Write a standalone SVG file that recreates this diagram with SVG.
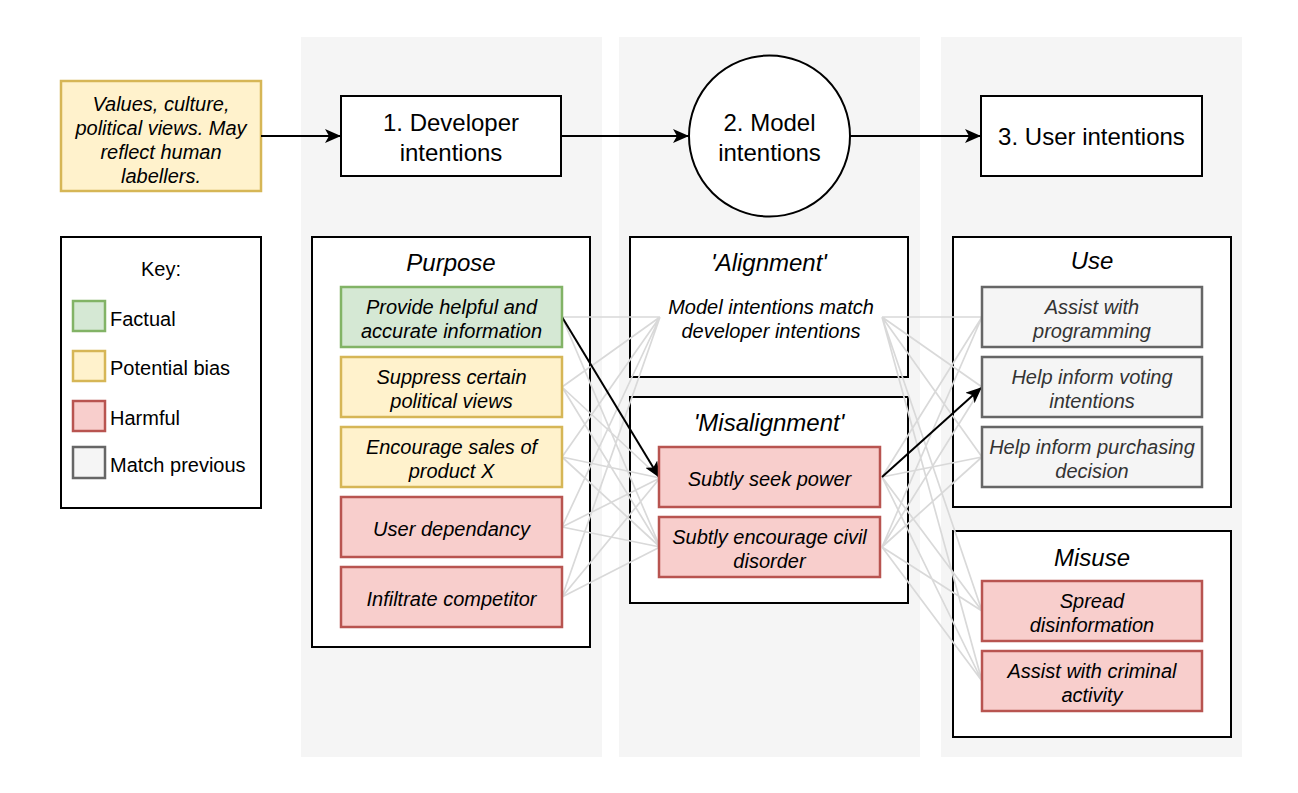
<svg xmlns="http://www.w3.org/2000/svg" width="1298" height="793" viewBox="0 0 1298 793">
<style>
text{font-family:"Liberation Sans",Arial,sans-serif;fill:#000;text-anchor:middle;dominant-baseline:central}
.t{font-size:20px;font-style:italic}
.h{font-size:24px;font-style:italic}
.big{font-size:24px}
.k{font-size:20px;text-anchor:start}
.col{fill:#f5f5f5}
.frame{fill:#fff;stroke:#000;stroke-width:2}
.g{fill:#d5e8d4;stroke:#82b366;stroke-width:2.5}
.y{fill:#fff2cc;stroke:#d6b656;stroke-width:2.5}
.r{fill:#f8cecc;stroke:#b85450;stroke-width:2.5}
.p{fill:#f5f5f5;stroke:#666;stroke-width:2.5}
.p2{fill:#333}
.gl{stroke:#d9d9d9;stroke-width:1.7;fill:none}
.bl{stroke:#000;stroke-width:2;fill:none;marker-end:url(#ah)}
</style>
<defs>
<marker id="ah" viewBox="0 0 16 14" refX="15" refY="7" markerWidth="16" markerHeight="14" markerUnits="userSpaceOnUse" orient="auto">
<path d="M0,0 L16,7 L0,14 L4,7 z" fill="#000"/>
</marker>
</defs>
<rect width="1298" height="793" fill="#fff"/>
<g id="columns">
<rect class="col" x="301" y="37" width="301" height="720"/>
<rect class="col" x="619" y="37" width="301" height="720"/>
<rect class="col" x="941" y="37" width="301" height="720"/>
</g>
<g id="values">
<rect class="y" x="61" y="81" width="200" height="110"/>
<text class="t" x="161" y="104">Values, culture,</text>
<text class="t" x="161" y="128">political views. May</text>
<text class="t" x="161" y="152">reflect human</text>
<text class="t" x="161" y="176">labellers.</text>
</g>
<g id="dev">
<rect class="frame" x="341" y="96" width="220" height="80"/>
<text class="big" x="451" y="122">1. Developer</text>
<text class="big" x="451" y="152">intentions</text>
</g>
<g id="model">
<circle cx="769.5" cy="136" r="80.5" fill="#fff" stroke="#000" stroke-width="2"/>
<text class="big" x="769.5" y="122">2. Model</text>
<text class="big" x="769.5" y="152">intentions</text>
</g>
<g id="user">
<rect class="frame" x="981" y="96" width="221" height="80"/>
<text class="big" x="1091.5" y="136">3. User intentions</text>
</g>
<g id="key">
<rect class="frame" x="61" y="237" width="200" height="271"/>
<text x="161" y="269" style="font-size:20px">Key:</text>
<rect class="g" x="73" y="301" width="32" height="30"/>
<text class="k" x="110" y="319">Factual</text>
<rect class="y" x="73" y="351" width="32" height="30"/>
<text class="k" x="110" y="368">Potential bias</text>
<rect class="r" x="73" y="401" width="32" height="30"/>
<text class="k" x="110" y="418">Harmful</text>
<rect class="p" x="73" y="447" width="32" height="31"/>
<text class="k" x="110" y="465">Match previous</text>
</g>
<g id="purpose">
<rect class="frame" x="312" y="237" width="278" height="410"/>
<text class="h" x="451" y="262">Purpose</text>
</g>
<g id="alignment">
<rect class="frame" x="630" y="237" width="278" height="140"/>
<text class="h" x="769" y="262">'Alignment'</text>
<text class="t" x="771" y="307">Model intentions match</text>
<text class="t" x="771" y="331">developer intentions</text>
</g>
<g id="misalignment">
<rect class="frame" x="630" y="397" width="278" height="206"/>
<text class="h" x="769" y="422">'Misalignment'</text>
</g>
<g id="use">
<rect class="frame" x="953" y="237" width="278" height="270"/>
<text class="h" x="1092" y="260">Use</text>
</g>
<g id="misuse">
<rect class="frame" x="953" y="531" width="278" height="206"/>
<text class="h" x="1092" y="557">Misuse</text>
</g>
<g id="connectors">
<path class="gl" d="M562,317 L660,317 M562,317 L660,547
M562,387 L660,317 M562,387 L660,478 M562,387 L660,547
M562,457 L660,317 M562,457 L660,478 M562,457 L660,547
M562,527 L660,317 M562,527 L660,478 M562,527 L660,547
M562,597 L660,317 M562,597 L660,478 M562,597 L660,547"/>
<path class="gl" d="M882,317 L982,317 M882,317 L982,387 M882,317 L982,457 M882,317 L982,611 M882,317 L982,681
M882,477 L982,317 M882,477 L982,457 M882,477 L982,611 M882,477 L982,681
M882,547 L982,317 M882,547 L982,387 M882,547 L982,457 M882,547 L982,611 M882,547 L982,681"/>
<path class="bl" d="M261,136 L340,136"/>
<path class="bl" d="M561,136 L688,136"/>
<path class="bl" d="M850,136 L980,136"/>
<path class="bl" d="M562,317 L659,477"/>
<path class="bl" d="M882,477 L981,388"/>
</g>
<g id="p1">
<rect class="g" x="341" y="287" width="221" height="60"/>
<text class="t" x="451.5" y="307">Provide helpful and</text>
<text class="t" x="451.5" y="331">accurate information</text>
</g>
<g id="p2">
<rect class="y" x="341" y="357" width="221" height="60"/>
<text class="t" x="451.5" y="377">Suppress certain</text>
<text class="t" x="451.5" y="401">political views</text>
</g>
<g id="p3">
<rect class="y" x="341" y="427" width="221" height="60"/>
<text class="t" x="451.5" y="447">Encourage sales of</text>
<text class="t" x="451.5" y="471">product X</text>
</g>
<g id="p4">
<rect class="r" x="341" y="497" width="221" height="60"/>
<text class="t" x="451.5" y="529">User dependancy</text>
</g>
<g id="p5">
<rect class="r" x="341" y="567" width="221" height="60"/>
<text class="t" x="451.5" y="599">Infiltrate competitor</text>
</g>
<g id="m1">
<rect class="r" x="659" y="447" width="221" height="60"/>
<text class="t" x="769.5" y="479">Subtly seek power</text>
</g>
<g id="m2">
<rect class="r" x="659" y="517" width="221" height="60"/>
<text class="t" x="769.5" y="537">Subtly encourage civil</text>
<text class="t" x="769.5" y="561">disorder</text>
</g>
<g id="u1">
<rect class="p" x="982" y="287" width="220" height="60"/>
<text class="t p2" x="1092" y="307">Assist with</text>
<text class="t p2" x="1092" y="331">programming</text>
</g>
<g id="u2">
<rect class="p" x="982" y="357" width="220" height="60"/>
<text class="t p2" x="1092" y="377">Help inform voting</text>
<text class="t p2" x="1092" y="401">intentions</text>
</g>
<g id="u3">
<rect class="p" x="982" y="427" width="220" height="60"/>
<text class="t p2" x="1092" y="447">Help inform purchasing</text>
<text class="t p2" x="1092" y="471">decision</text>
</g>
<g id="x1">
<rect class="r" x="982" y="581" width="220" height="60"/>
<text class="t" x="1092" y="601">Spread</text>
<text class="t" x="1092" y="625">disinformation</text>
</g>
<g id="x2">
<rect class="r" x="982" y="651" width="220" height="60"/>
<text class="t" x="1092" y="671">Assist with criminal</text>
<text class="t" x="1092" y="695">activity</text>
</g>
</svg>
